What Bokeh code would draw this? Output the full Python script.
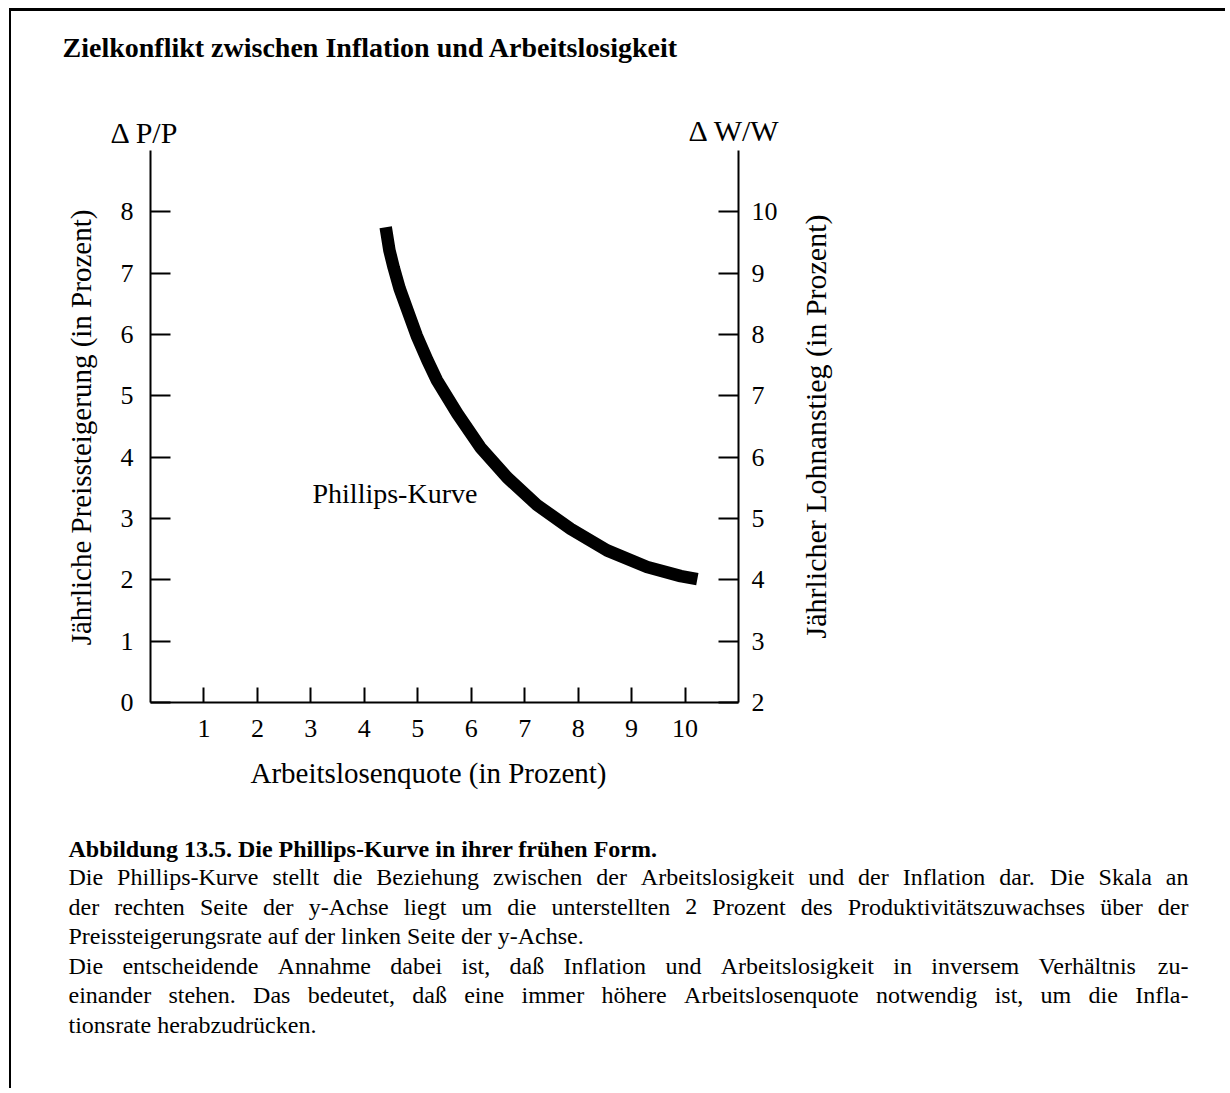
import math
from bokeh.plotting import figure
from bokeh.models import LinearAxis, Range1d, FixedTicker, Label
from bokeh.core.properties import value
from bokeh.embed import file_html
from bokeh.resources import INLINE

# ---------------- data ----------------
unemployment = [4.40, 4.47, 4.55, 4.66, 4.81, 4.98, 5.18, 5.36, 5.74, 6.17, 6.67, 7.23,
                7.86, 8.54, 9.29, 9.92, 10.23]
price_inflation = [7.75, 7.37, 7.09, 6.75, 6.39, 5.98, 5.58, 5.25, 4.71, 4.16, 3.67, 3.22,
                   2.83, 2.48, 2.21, 2.06, 2.01]
x_ticks = [1, 2, 3, 4, 5, 6, 7, 8, 9, 10]
left_ticks = [0, 1, 2, 3, 4, 5, 6, 7, 8]
right_ticks = [2, 3, 4, 5, 6, 7, 8, 9, 10]
productivity_growth = 2
x_max, y_max = 11, 9

title_text = "Zielkonflikt zwischen Inflation und Arbeitslosigkeit"
curve_name = "Phillips-Kurve"
x_label = "Arbeitslosenquote (in Prozent)"
left_label = "Jährliche Preissteigerung (in Prozent)"
right_label = "Jährlicher Lohnanstieg (in Prozent)"
left_head = "Δ P/P"
right_head = "Δ W/W"
caption_head = "Abbildung 13.5.  Die Phillips-Kurve in ihrer frühen Form."
caption_lines = [
    ("Die Phillips-Kurve stellt die Beziehung zwischen der Arbeitslosigkeit und der Inflation dar. Die Skala an", True),
    ("der rechten Seite der y-Achse liegt um die unterstellten 2 Prozent des Produktivitätszuwachses über der", True),
    ("Preissteigerungsrate auf der linken Seite der y-Achse.", False),
    ("Die entscheidende Annahme dabei ist, daß Inflation und Arbeitslosigkeit in inversem Verhältnis zu-", True),
    ("einander stehen. Das bedeutet, daß eine immer höhere Arbeitslosenquote notwendig ist, um die Infla-", True),
    ("tionsrate herabzudrücken.", False),
]

# ---------------- layout (page pixels) ----------------
W, H = 1216, 1080
X0, Y0 = 11, 11                    # canvas origin on the page (css margin + border)
AX_L, AX_R, AX_T, AX_B = 150, 738, 150, 702   # chart axes box on the page
XS = (AX_R - AX_L) / x_max
YS = (AX_B - AX_T) / y_max


def dx(page_x):
    return (page_x - AX_L) / XS


def dy(page_y):
    return (AX_B - page_y) / YS


SERIF = "Liberation Serif"

p = figure(width=W, height=H, output_backend="svg", toolbar_location=None,
           x_range=Range1d(dx(X0), dx(X0 + W)), y_range=Range1d(dy(Y0 + H), dy(Y0)),
           x_axis_location=None, y_axis_location=None,
           min_border_left=0, min_border_right=0, min_border_top=0, min_border_bottom=0)
p.title.visible = False
p.outline_line_color = None
p.background_fill_color = "white"
p.border_fill_color = "white"
for g in p.grid:
    g.visible = False
p.styles = {"margin-left": "9px", "margin-top": "8px",
            "border-left": "2px solid black", "border-top": "3px solid black"}

p.extra_y_ranges = {"w": Range1d(dy(Y0 + H) + productivity_growth, dy(Y0) + productivity_growth)}

xaxis = LinearAxis(fixed_location=0, bounds=(0, x_max), ticker=FixedTicker(ticks=x_ticks))
yaxis = LinearAxis(fixed_location=0, bounds=(0, y_max), ticker=FixedTicker(ticks=left_ticks))
raxis = LinearAxis(fixed_location=x_max, y_range_name="w",
                   bounds=(productivity_growth, y_max + productivity_growth),
                   ticker=FixedTicker(ticks=right_ticks))
p.add_layout(xaxis, "below")
p.add_layout(yaxis, "left")
p.add_layout(raxis, "right")

for ax, tin, stand in ((xaxis, 15, 17), (yaxis, 20, 17), (raxis, 20, 13)):
    ax.axis_line_width = 2
    ax.axis_line_color = "black"
    ax.major_tick_line_width = 2
    ax.major_tick_line_color = "black"
    ax.major_tick_in = tin
    ax.major_tick_out = 0
    ax.minor_tick_line_color = None
    ax.major_label_text_font = SERIF
    ax.major_label_text_font_size = "26px"
    ax.major_label_text_color = "black"
    ax.major_label_standoff = stand
    ax.major_label_orientation = "horizontal"

p.line(unemployment, price_inflation, line_width=12.5, line_color="black",
       line_cap="butt", line_join="round")

p.text(x=[dx(312)], y=[dy(493)], text=[curve_name], text_font=value(SERIF),
       text_font_size="28px", text_align="left", text_baseline="middle", text_color="black")


def lab(x, y, text, size, style="normal", align="left", angle=0.0):
    p.add_layout(Label(x=x, y=y, text=text, text_font=SERIF, text_font_size=size,
                       text_font_style=style, text_align=align, text_baseline="middle",
                       text_color="black", angle=angle))


lab(dx(62), dy(47), title_text, "28px", "bold")
lab(dx(110), dy(132), left_head, "30px")
lab(dx(688), dy(130), right_head, "30px")
lab(dx(80), dy(427), left_label, "29px", align="center", angle=math.pi / 2)
lab(dx(815), dy(426), right_label, "30px", align="center", angle=math.pi / 2)
lab(dx(428), dy(772), x_label, "29px", align="center")

# caption (justified lines: word positions from Times metrics)
TIMES = {" ": 250, "a": 444, "b": 500, "c": 444, "d": 500, "e": 444, "f": 333, "g": 500, "h": 500,
         "i": 278, "j": 278, "k": 500, "l": 278, "m": 778, "n": 500, "o": 500, "p": 500, "q": 500,
         "r": 333, "s": 389, "t": 278, "u": 500, "v": 500, "w": 722, "x": 500, "y": 500, "z": 444,
         "A": 722, "B": 667, "D": 722, "I": 333, "K": 722, "P": 556, "S": 556, "V": 722,
         "ä": 444, "ö": 500, "ü": 500, "ß": 500, ".": 250, ",": 250, "-": 333}


def tw(s, size):
    return sum(TIMES.get(c, 500) for c in s) / 1000.0 * size


lab(dx(68), dy(848), caption_head, "24px", "bold")
BODY_L, BODY_R, BODY_SIZE = 68, 1188, 24
line_y = [876, 906, 935, 965, 994, 1024]
for (txt, just), ly in zip(caption_lines, line_y):
    if not just:
        lab(dx(BODY_L), dy(ly), txt, f"{BODY_SIZE}px")
        continue
    words = txt.split(" ")
    widths = [tw(w_, BODY_SIZE) for w_ in words]
    gap = (BODY_R - BODY_L - sum(widths)) / (len(words) - 1)
    xpos = BODY_L
    for w_, wd in zip(words, widths):
        lab(dx(xpos), dy(ly), w_, f"{BODY_SIZE}px")
        xpos += wd + gap

open("out.html", "w").write(file_html(p, INLINE))
